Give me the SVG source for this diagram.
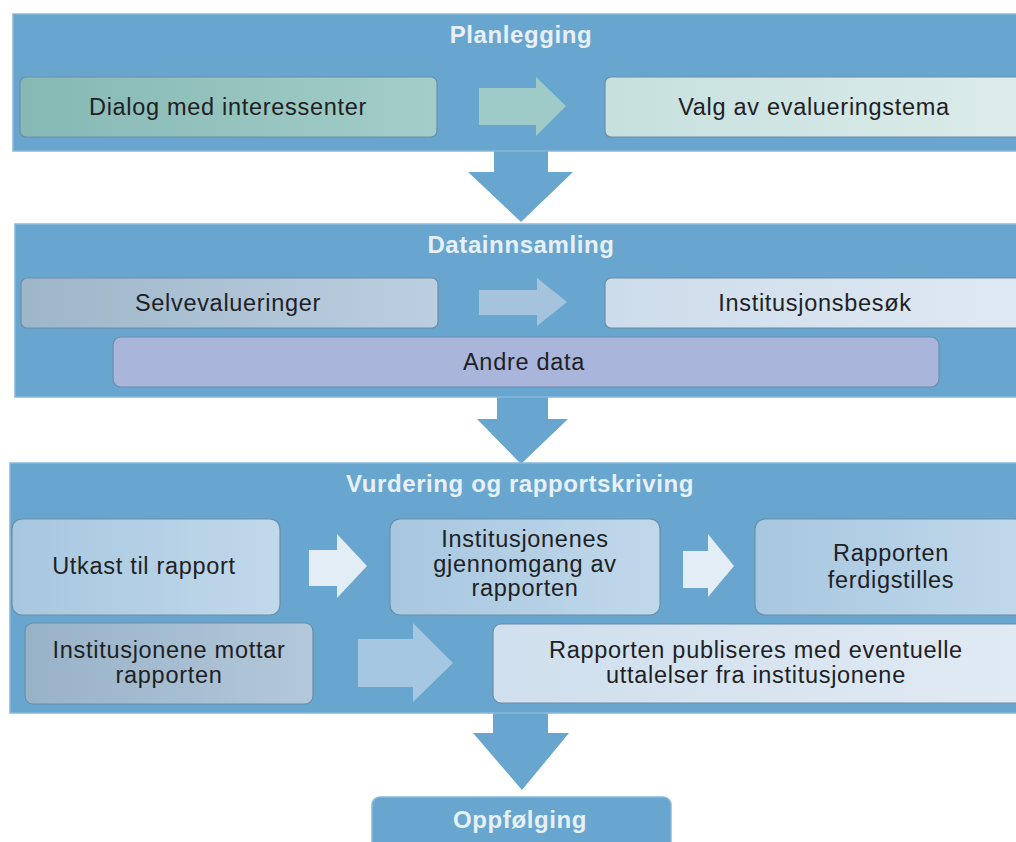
<svg xmlns="http://www.w3.org/2000/svg" width="1016" height="842" viewBox="0 0 1016 842">
<defs>
<linearGradient id="gTeal" x1="0" y1="0" x2="1" y2="0"><stop offset="0" stop-color="#86b9b4"/><stop offset="1" stop-color="#a3cdc8"/></linearGradient>
<linearGradient id="gTealL" x1="0" y1="0" x2="1" y2="0"><stop offset="0" stop-color="#c6e0de"/><stop offset="1" stop-color="#dcecea"/></linearGradient>
<linearGradient id="gGray" x1="0" y1="0" x2="1" y2="0"><stop offset="0" stop-color="#9eb6ca"/><stop offset="1" stop-color="#bccfe0"/></linearGradient>
<linearGradient id="gGrayL" x1="0" y1="0" x2="1" y2="0"><stop offset="0" stop-color="#cddceb"/><stop offset="1" stop-color="#dfe9f3"/></linearGradient>
<linearGradient id="gBlue" x1="0" y1="0" x2="1" y2="0"><stop offset="0" stop-color="#a7c7e0"/><stop offset="1" stop-color="#c1d8ea"/></linearGradient>
<linearGradient id="gSlate" x1="0" y1="0" x2="1" y2="0"><stop offset="0" stop-color="#98b2c8"/><stop offset="1" stop-color="#b3c8da"/></linearGradient>
<linearGradient id="gPale" x1="0" y1="0" x2="1" y2="0"><stop offset="0" stop-color="#cfdfed"/><stop offset="1" stop-color="#e0eaf4"/></linearGradient>
<style>
.panel{fill:#68a6cf;stroke:#86b8da;stroke-width:1.5}
.darrow{fill:#68a6cf}
.box{stroke:#6c8ea8;stroke-width:1.2}
.t{font-family:"Liberation Sans",Arial,sans-serif;font-size:23.5px;fill:#1e2124;text-anchor:middle;letter-spacing:0.7px}
.h{font-family:"Liberation Sans",Arial,sans-serif;font-size:24px;font-weight:bold;fill:#e8f0f7;text-anchor:middle;letter-spacing:0.6px}
</style>
</defs>

<g id="connectors">
  <polygon class="darrow" points="494,150 548,150 548,172 573,172 521,222 468,172 494,172"/>
  <polygon class="darrow" points="497,396 548,396 548,419 568,419 521,464 477,419 497,419"/>
  <polygon class="darrow" points="493,712 548,712 548,733 569,733 522,790 473,733 493,733"/>
</g>

<g id="panel-planlegging">
  <rect class="panel" x="13" y="14" width="1010" height="137"/>
  <text class="h" x="521" y="43">Planlegging</text>
</g>
<g id="node-dialog">
  <rect class="box" x="20" y="77" width="417" height="60" rx="6" fill="url(#gTeal)"/>
  <text class="t" x="228" y="115">Dialog med interessenter</text>
</g>
<g id="arrow-p1">
  <polygon points="479,88 536,88 536,77 566,106 536,136 536,125 479,125" fill="#9ecbc7"/>
</g>
<g id="node-valg">
  <rect class="box" x="605" y="77" width="420" height="60" rx="6" fill="url(#gTealL)"/>
  <text class="t" x="814" y="115">Valg av evalueringstema</text>
</g>

<g id="panel-datainnsamling">
  <rect class="panel" x="15" y="224" width="1010" height="173"/>
  <text class="h" x="521" y="253">Datainnsamling</text>
</g>
<g id="node-selv">
  <rect class="box" x="21" y="278" width="417" height="50" rx="6" fill="url(#gGray)"/>
  <text class="t" x="228" y="311">Selvevalueringer</text>
</g>
<g id="arrow-p2">
  <polygon points="479,290 537,290 537,278 567,302 537,326 537,315 479,315" fill="#a5c3dc"/>
</g>
<g id="node-besok">
  <rect class="box" x="605" y="278" width="420" height="50" rx="6" fill="url(#gGrayL)"/>
  <text class="t" x="815" y="311">Institusjonsbesøk</text>
</g>
<g id="node-andre">
  <rect class="box" x="113" y="337" width="826" height="50" rx="8" fill="#a9b5da"/>
  <text class="t" x="524" y="370">Andre data</text>
</g>

<g id="panel-vurdering">
  <rect class="panel" x="10" y="463" width="1015" height="250"/>
  <text class="h" x="520" y="492">Vurdering og rapportskriving</text>
</g>
<g id="node-utkast">
  <rect class="box" x="12" y="519" width="268" height="96" rx="10" fill="url(#gBlue)"/>
  <text class="t" x="144" y="574">Utkast til rapport</text>
</g>
<g id="arrow-p3a">
  <polygon points="309,550 337,550 337,534 367,566 337,598 337,586 309,586" fill="#e2edf6"/>
</g>
<g id="node-gjennomgang">
  <rect class="box" x="390" y="519" width="270" height="96" rx="10" fill="url(#gBlue)"/>
  <text class="t" x="525" y="547">Institusjonenes</text>
  <text class="t" x="525" y="572">gjennomgang av</text>
  <text class="t" x="525" y="596">rapporten</text>
</g>
<g id="arrow-p3b">
  <polygon points="683,551 708,551 708,534 734,566 708,597 708,588 683,588" fill="#e2edf6"/>
</g>
<g id="node-ferdig">
  <rect class="box" x="755" y="519" width="270" height="96" rx="10" fill="url(#gBlue)"/>
  <text class="t" x="891" y="561">Rapporten</text>
  <text class="t" x="891" y="588">ferdigstilles</text>
</g>
<g id="node-mottar">
  <rect class="box" x="25" y="623" width="288" height="81" rx="8" fill="url(#gSlate)"/>
  <text class="t" x="169" y="658">Institusjonene mottar</text>
  <text class="t" x="169" y="683">rapporten</text>
</g>
<g id="arrow-p3c">
  <polygon points="358,639 413,639 413,623 453,663 413,702 413,687 358,687" fill="#a6c7e1"/>
</g>
<g id="node-publiseres">
  <rect class="box" x="493" y="624" width="532" height="79" rx="8" fill="url(#gPale)"/>
  <text class="t" x="756" y="658">Rapporten publiseres med eventuelle</text>
  <text class="t" x="756" y="683">uttalelser fra institusjonene</text>
</g>

<g id="node-oppfolging">
  <rect x="372" y="797" width="299" height="60" rx="8" fill="#68a6cf" stroke="#86b8da" stroke-width="1.5"/>
  <text class="h" x="520" y="828">Oppfølging</text>
</g>
</svg>
